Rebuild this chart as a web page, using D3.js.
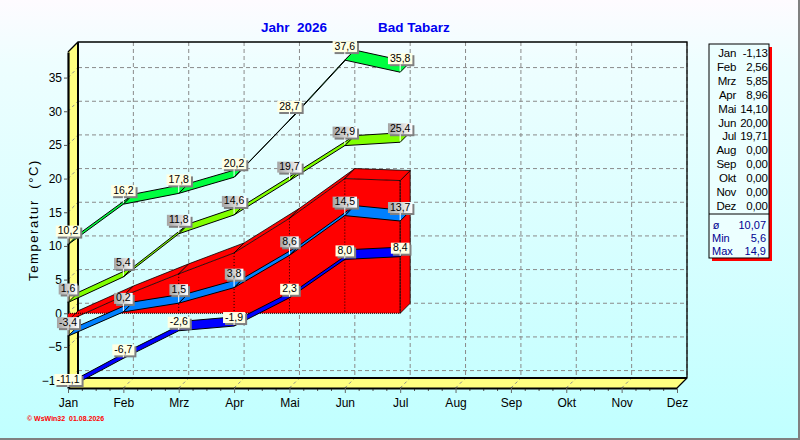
<!DOCTYPE html>
<html>
<head>
<meta charset="utf-8">
<script src="https://cdn.jsdelivr.net/npm/d3@7"></script>
<style>
  body { margin: 0; overflow: hidden; }
  svg { display: block; }
  text { font-family: "Liberation Sans", Arial, sans-serif; }
</style>
</head>
<body>
<div id="chart"></div>
<script>
// monthly values, Bad Tabarz 2026
const months = ["Jan", "Feb", "Mrz", "Apr", "Mai", "Jun", "Jul", "Aug", "Sep", "Okt", "Nov", "Dez"];
const absMax = [10.2, 16.2, 17.8, 20.2, 28.7, 37.6, 35.8];
const meanMax = [1.6, 5.4, 11.8, 14.6, 19.7, 24.9, 25.4];
const meanTemp = [-1.13, 2.56, 5.85, 8.96, 14.10, 20.00, 19.71, 0, 0, 0, 0, 0];
const meanMin = [-3.4, 0.2, 1.5, 3.8, 8.6, 14.5, 13.7];
const absMin = [-11.1, -6.7, -2.6, -1.9, 2.3, 8.0, 8.4];
const yTicks = [-10, -5, 0, 5, 10, 15, 20, 25, 30, 35];
const statLabels = ["ø", "Min", "Max"];
const statValues = [10.07, 5.6, 14.9];
const statDigits = [2, 1, 1];

const W = 800, H = 440;
const plot = { left: 68, right: 677, top: 52, bottom: 388 };
const depth = { dx: 10, dy: -10 };
const font = '"Liberation Sans", Arial, sans-serif';

const svg = d3.select("#chart")
  .append("svg")
  .attr("width", W)
  .attr("height", H);

const defs = svg.append("defs");

const bg = defs.append("linearGradient")
  .attr("id", "bg")
  .attr("x1", 0).attr("y1", 0).attr("x2", 0).attr("y2", 1);
bg.append("stop").attr("offset", "0%").attr("stop-color", "#fefbff");
bg.append("stop").attr("offset", "14%").attr("stop-color", "#eefeff");
bg.append("stop").attr("offset", "100%").attr("stop-color", "#c0ffff");

const grayLabel = defs.append("linearGradient")
  .attr("id", "grayLabel")
  .attr("x1", 0).attr("y1", 0).attr("x2", 1).attr("y2", 0);
grayLabel.append("stop").attr("offset", "0%").attr("stop-color", "#a4a4a4");
grayLabel.append("stop").attr("offset", "100%").attr("stop-color", "#ffffff");

svg.append("rect")
  .attr("width", W)
  .attr("height", H)
  .attr("fill", "url(#bg)");

// window border right / bottom
svg.append("path")
  .attr("d", `M${W - 1},0V${H - 1}H0`)
  .attr("fill", "none")
  .attr("stroke", "#808080")
  .attr("stroke-width", 2);

const x = d3.scalePoint()
  .domain(months)
  .range([plot.left, plot.right]);

const xi = d3.scaleLinear()
  .domain([0, months.length - 1])
  .range([plot.left, plot.right]);

const y = d3.scaleLinear()
  .domain([-11.1, 38.8])
  .range([plot.bottom, plot.top]);

const back = p => [p[0] + depth.dx, p[1] + depth.dy];
const poly = pts => "M" + pts.map(p => p.join(",")).join("L") + "Z";
const fmt = (v, d) => v.toFixed(d).replace(".", ",");

// back wall grid
const grid = svg.append("g")
  .attr("stroke", "#8a8a8a")
  .attr("stroke-dasharray", "4,3")
  .attr("fill", "none");

grid.selectAll(".hg")
  .data(yTicks)
  .join("line")
  .attr("x1", plot.left + depth.dx)
  .attr("x2", plot.right + depth.dx)
  .attr("y1", d => y(d) + depth.dy)
  .attr("y2", d => y(d) + depth.dy);

grid.selectAll(".vg")
  .data(months.slice(1))
  .join("line")
  .attr("x1", d => x(d) + depth.dx)
  .attr("x2", d => x(d) + depth.dx)
  .attr("y1", plot.top + depth.dy)
  .attr("y2", plot.bottom + depth.dy);

// side wall and floor
svg.append("path")
  .attr("d", poly([[plot.left, plot.top], back([plot.left, plot.top]), back([plot.left, plot.bottom]), [plot.left, plot.bottom]]))
  .attr("fill", "#ffff80");

svg.append("path")
  .attr("d", poly([[plot.left, plot.bottom], back([plot.left, plot.bottom]), back([plot.right, plot.bottom]), [plot.right, plot.bottom]]))
  .attr("fill", "#ffff80");

const diag = svg.append("g")
  .attr("stroke", "#8a8a8a")
  .attr("stroke-dasharray", "3,3");

diag.selectAll(".wd")
  .data(yTicks)
  .join("line")
  .attr("x1", plot.left).attr("y1", d => y(d))
  .attr("x2", plot.left + depth.dx).attr("y2", d => y(d) + depth.dy);

diag.selectAll(".fd")
  .data(months.slice(1))
  .join("line")
  .attr("x1", d => x(d)).attr("y1", plot.bottom)
  .attr("x2", d => x(d) + depth.dx).attr("y2", plot.bottom + depth.dy);

// frame
const frame = svg.append("g").attr("stroke", "#000").attr("fill", "none");
frame.append("path")
  .attr("d", `M${plot.left},${plot.top}L${plot.left + depth.dx},${plot.top + depth.dy}H${plot.right + depth.dx}V${plot.bottom + depth.dy}L${plot.right},${plot.bottom}`)
  .attr("stroke-width", 1.3);
frame.append("path")
  .attr("d", `M${plot.left + depth.dx},${plot.top + depth.dy}V${plot.bottom + depth.dy}H${plot.right + depth.dx}`)
  .attr("stroke-width", 2);

// axes
const yAxis = svg.append("g")
  .attr("transform", `translate(${plot.left},0)`)
  .call(d3.axisLeft(y).tickValues(yTicks).tickSize(4).tickSizeOuter(0).tickPadding(2));
yAxis.select(".domain").attr("stroke-width", 2.2);
yAxis.selectAll(".tick line").attr("stroke", "#555");
yAxis.selectAll("text").attr("font-size", 12).attr("font-family", font).attr("fill", "#000");

const xMinor = svg.append("g")
  .attr("transform", `translate(0,${plot.bottom})`)
  .call(d3.axisBottom(xi)
    .tickValues(d3.range(0, 44).map(d => d / 4).filter(d => d % 1 !== 0))
    .tickSize(3).tickSizeOuter(0).tickFormat(""));
xMinor.select(".domain").remove();
xMinor.selectAll(".tick line").attr("stroke", "#555");

const xAxis = svg.append("g")
  .attr("transform", `translate(0,${plot.bottom})`)
  .call(d3.axisBottom(x).tickSize(5).tickSizeOuter(0).tickPadding(5));
xAxis.select(".domain").attr("stroke-width", 2.2);
xAxis.selectAll(".tick line").attr("stroke", "#666");
xAxis.selectAll("text").attr("font-size", 12).attr("font-family", font).attr("fill", "#000");

// mean temperature as 3d area
const meanPlotted = meanTemp.slice(0, absMax.length);
const mp = meanPlotted.map((v, i) => [x(months[i]), y(v)]);
const y0 = y(0);
const first = mp[0], last = mp[mp.length - 1];
const area = svg.append("g");

area.append("path")
  .attr("d", poly([[first[0], y0], ...mp, [last[0], y0]]))
  .attr("fill", "#ff0000");

area.append("path")
  .attr("d", poly([[last[0], y0], last, back(last), back([last[0], y0])]))
  .attr("fill", "#ff0000")
  .attr("stroke", "#000")
  .attr("stroke-width", 0.8);

area.selectAll(".strip")
  .data(d3.pairs(mp))
  .join("path")
  .attr("d", ([a, b]) => poly([a, b, back(b), back(a)]))
  .attr("fill", "#ff0000")
  .attr("stroke", "#000")
  .attr("stroke-width", 0.8)
  .attr("stroke-linejoin", "round");

area.selectAll(".drop")
  .data(mp.slice(1))
  .join("line")
  .attr("x1", d => d[0]).attr("x2", d => d[0])
  .attr("y1", d => d[1]).attr("y2", y0)
  .attr("stroke", "#000")
  .attr("stroke-dasharray", "1,2");

area.append("line")
  .attr("x1", first[0]).attr("x2", last[0])
  .attr("y1", y0).attr("y2", y0)
  .attr("stroke", "#000")
  .attr("stroke-dasharray", "1,1");

// ribbons
function ribbon(values, color) {
  const pts = values.map((v, i) => [x(months[i]), y(v)]);
  svg.append("g")
    .selectAll("path")
    .data(d3.pairs(pts))
    .join("path")
    .attr("d", ([a, b]) => poly([a, b, back(b), back(a)]))
    .attr("fill", color)
    .attr("stroke", "#000")
    .attr("stroke-width", 1)
    .attr("stroke-linejoin", "round");
}

ribbon(absMin, "#0000ff");
ribbon(meanMin, "#0080ff");
ribbon(meanMax, "#80ff00");
ribbon(absMax, "#00ff40");

// value labels
function labels(values, fill, gap) {
  const g = svg.append("g");
  values.forEach((v, i) => {
    const px = x(months[i]), py = y(v);
    const lg = g.append("g");
    const t = lg.append("text")
      .attr("font-size", 10.5)
      .attr("font-family", font)
      .attr("text-anchor", "middle")
      .attr("x", px)
      .attr("y", py - gap - 2.5)
      .text(fmt(v, 1));
    const w = t.node().getComputedTextLength() + 4;
    const h = 11;
    const bx = px - w / 2, by = py - gap - h;
    lg.insert("rect", "text")
      .attr("x", bx + 2).attr("y", by + 2)
      .attr("width", w).attr("height", h)
      .attr("fill", "#808080");
    lg.insert("rect", "text")
      .attr("x", bx).attr("y", by)
      .attr("width", w).attr("height", h)
      .attr("fill", fill);
    lg.append("line")
      .attr("x1", px).attr("x2", px)
      .attr("y1", by + h).attr("y2", py - 1)
      .attr("stroke", "#fff");
  });
}

labels(absMin, "#ffffe4", 3);
labels(meanMin, "url(#grayLabel)", 8);
labels(meanMax, "url(#grayLabel)", 8);
labels(absMax, "#ffffe4", 8);

// titles
svg.append("text")
  .attr("x", 261).attr("y", 32)
  .attr("font-size", 13.5).attr("font-weight", "bold")
  .attr("fill", "#0000f0")
  .attr("xml:space", "preserve")
  .text("Jahr  2026");
svg.append("text")
  .attr("x", 378).attr("y", 32)
  .attr("font-size", 13.5).attr("font-weight", "bold")
  .attr("fill", "#0000f0")
  .text("Bad Tabarz");

svg.append("text")
  .attr("transform", "translate(38,220) rotate(-90)")
  .attr("text-anchor", "middle")
  .attr("font-size", 13)
  .attr("letter-spacing", 1.6)
  .attr("fill", "#000")
  .attr("xml:space", "preserve")
  .text("Temperatur  (°C)");

svg.append("text")
  .attr("x", 27).attr("y", 421)
  .attr("font-size", 7).attr("font-weight", "bold")
  .attr("fill", "#ff0000")
  .attr("xml:space", "preserve")
  .text("© WsWin32  01.08.2026");

// legend box
const lg = { x: 709, y: 44, w: 60, h: 214 };
svg.append("rect")
  .attr("x", lg.x + 3).attr("y", lg.y + 3)
  .attr("width", lg.w).attr("height", lg.h)
  .attr("fill", "#ff0000");
svg.append("rect")
  .attr("x", lg.x).attr("y", lg.y)
  .attr("width", lg.w).attr("height", lg.h)
  .attr("fill", "#ecffff")
  .attr("stroke", "#000");
svg.append("line")
  .attr("x1", lg.x).attr("x2", lg.x + lg.w)
  .attr("y1", 214).attr("y2", 214)
  .attr("stroke", "#000");

const rowY = d3.scalePoint().domain(months).range([57, 210]);
const legendRows = svg.append("g")
  .attr("font-size", 11.5)
  .attr("letter-spacing", -0.3)
  .attr("font-family", font);
legendRows.selectAll(".m")
  .data(months)
  .join("text")
  .attr("x", 736)
  .attr("y", d => rowY(d))
  .attr("text-anchor", "end")
  .text(d => d);
legendRows.selectAll(".v")
  .data(meanTemp)
  .join("text")
  .attr("x", 767.5)
  .attr("y", (d, i) => rowY(months[i]))
  .attr("text-anchor", "end")
  .text(d => fmt(d, 2));

const statY = [229, 242, 254.5];
const stats = svg.append("g").attr("font-size", 11).attr("font-family", font).attr("fill", "#000090");
stats.selectAll(".sl")
  .data(statLabels)
  .join("text")
  .attr("x", (d, i) => i === 0 ? 716 : 712)
  .attr("y", (d, i) => statY[i])
  .attr("text-anchor", (d, i) => i === 0 ? "middle" : "start")
  .text(d => d);
stats.selectAll(".sv")
  .data(statValues)
  .join("text")
  .attr("x", 766)
  .attr("y", (d, i) => statY[i])
  .attr("text-anchor", "end")
  .text((d, i) => fmt(d, statDigits[i]));
</script>
</body>
</html>
